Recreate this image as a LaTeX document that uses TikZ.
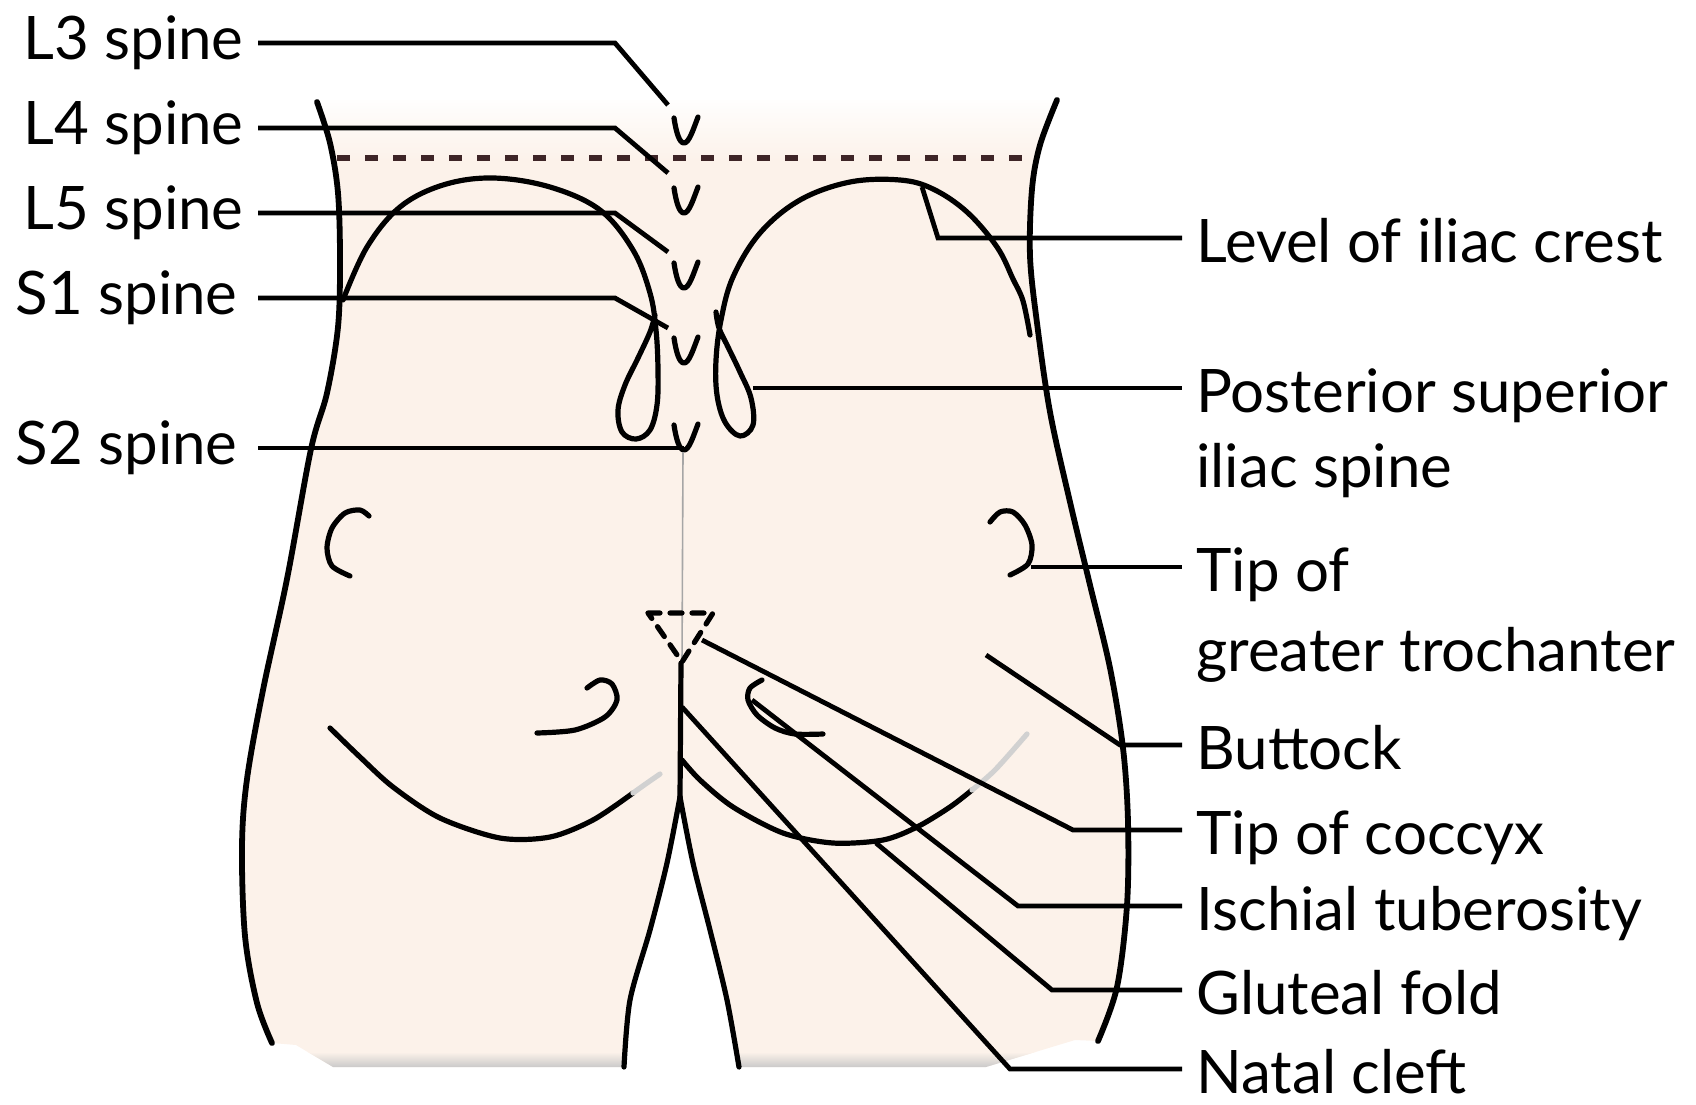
\documentclass[tikz,border=0pt]{standalone}
\usepackage{fontspec}
\setmainfont{Lato}
\usetikzlibrary{calc}
\definecolor{skin}{HTML}{FCF2EA}
\definecolor{crestdash}{HTML}{3E2527}

\tikzset{
  outline/.style={line width=2.9pt, line cap=round, line join=round},
  markline/.style={line width=2.6pt, line cap=round, line join=round},
  leader/.style={line width=2.4pt, line join=miter},
  lab/.style={font=\fontsize{30}{36}\selectfont, inner ysep=0pt, inner xsep=7pt,
              text height=28pt, text depth=4pt},
  labL/.style={lab, anchor=east, text height=20pt},
  labR/.style={lab, anchor=west},
  vmark/.pic={\draw[markline] (-10,-25) .. controls (-8,-12) and (-5,0) .. (0,0)
                              .. controls (5,0) and (9,-13) .. (14,-26);}
}

% outline of the lower back, buttocks and thighs
\def\bodyshape{(317,100) -- plot[smooth, tension=0.55] coordinates {(317,102) (330,143) (338,193) (340,260) (338,327) (327,393) (311,449) (287,579) (263,690) (247,779) (242,846) (245,936) (257,1003) (272,1043)}
  -- (296,1045) -- (333,1067) -- (624,1067)
  -- plot[smooth] coordinates {(624,1067) (630,1000) (650,930) (667,863) (680,797)}
  -- plot[smooth] coordinates {(680,797) (693,863) (710,930) (727,1000) (739,1067)}
  -- (986,1067) -- (1075,1040) -- (1098,1041)
  -- plot[smooth, tension=0.55] coordinates {(1098,1041) (1117,987) (1127,905) (1128,822) (1123,748) (1110,668) (1090,585) (1070,502) (1050,412) (1037,323) (1030,256) (1032,189) (1040,145) (1057,100)}
  -- cycle}

\begin{document}
\begin{tikzpicture}[x=0.5pt, y=-0.5pt]
\useasboundingbox (0,0) rectangle (1696,1104);

% skin-coloured body with a soft top edge and a shaded lower rim
\begin{scope}
  \clip \bodyshape;
  \fill[skin] (200,90) rectangle (1200,1110);
  \shade[top color=white, bottom color=skin] (200,95) rectangle (1200,160);
  \shade[top color=skin, bottom color=black!22] (200,1052) rectangle (1200,1068);
\end{scope}

% side contours
\draw[outline] plot[smooth, tension=0.55] coordinates {(317,102) (330,143) (338,193) (340,260) (338,327) (327,393) (311,449) (287,579) (263,690) (247,779) (242,846) (245,936) (257,1003) (272,1043)};
\draw[outline] plot[smooth, tension=0.55] coordinates {(1098,1041) (1117,987) (1127,905) (1128,822) (1123,748) (1110,668) (1090,585) (1070,502) (1050,412) (1037,323) (1030,256) (1032,189) (1040,145) (1057,100)};

% level of the iliac crests
\draw[crestdash, line width=2.6pt, dash pattern=on 6.5pt off 7.5pt] (337,158) -- (1033,158);

% iliac crests ending in the posterior superior iliac spines
\draw[markline] plot[smooth, tension=0.6] coordinates {(343,300) (367,247) (400,207) (443,185) (493,178) (550,187) (600,210) (633,250) (650,293) (656,330) (658,370) (657,405) (650,430) (636,439) (622,432) (618,410) (625,385) (638,358) (650,332) (655,315)};
\draw[markline] plot[smooth, tension=0.6] coordinates {(1030,335) (1023,301) (1013,279) (997,247) (967,212) (933,189) (900,180) (850,182) (800,200) (760,233) (733,277) (721,320) (716,360) (717,395) (725,422) (740,436) (753,425) (751,398) (740,372) (728,347) (719,328) (716,312)};

% spinous processes
\pic at (684,143) {vmark};
\pic at (684,213) {vmark};
\pic at (684,288) {vmark};
\pic at (684,363) {vmark};
\pic at (684,450) {vmark};

% midline, coccyx and natal cleft
\draw[line width=0.8pt, black!35] (683,452) -- (682,663);
\draw[markline, dash pattern=on 6pt off 5pt] (648,613) -- (713,613) -- (682,662) -- cycle;
\draw[markline] (681,663) -- (680,797);
\draw[markline] plot[smooth] coordinates {(680,797) (667,863) (650,930) (630,1000) (624,1067)};
\draw[markline] plot[smooth] coordinates {(680,797) (693,863) (710,930) (727,1000) (739,1067)};

% greater trochanters
\draw[markline] plot[smooth] coordinates {(369,516) (360,510) (345,513) (332,528) (327,548) (332,566) (350,576)};
\draw[markline] plot[smooth] coordinates {(990,522) (1000,512) (1013,512) (1025,525) (1032,545) (1028,564) (1010,575)};

% ischial tuberosities
\draw[markline] plot[smooth] coordinates {(587,688) (600,680) (612,684) (617,700) (605,717) (575,730) (537,733)};
\draw[markline] plot[smooth] coordinates {(762,680) (750,688) (748,700) (757,715) (775,728) (795,734) (823,734)};

% gluteal folds
\draw[markline] plot[smooth] coordinates {(330,728) (360,757) (393,787) (440,818) (500,838) (550,837) (593,820) (633,793)};
\draw[markline, black!18] plot[smooth] coordinates {(633,793) (647,783) (660,774)};
\draw[markline] plot[smooth] coordinates {(682,760) (700,780) (733,807) (783,833) (833,843) (883,840) (917,827) (950,807) (972,790)};
\draw[markline, black!18] plot[smooth] coordinates {(972,790) (995,770) (1027,734)};

% labels on the left
\node[labL] (l3) at (258,43) {L3 spine};
\node[labL] (l4) at (258,128) {L4 spine};
\node[labL] (l5) at (258,213) {L5 spine};
\node[labL, inner xsep=10pt] (s1) at (258,298) {S1 spine};
\node[labL, inner xsep=10pt] (s2) at (258,448) {S2 spine};

% labels on the right
\node[labR] (crest) at (1182,238) {Level of iliac crest};
\node[labR] (psis) at (1182,388) {Posterior superior};
\node[labR] (psisb) at ($(psis.west)+(0,75)$) {iliac spine};
\node[labR] (tro) at (1182,567) {Tip of};
\node[labR] (trob) at ($(tro.west)+(0,80)$) {greater trochanter};
\node[labR] (buttock) at (1182,745) {Buttock};
\node[labR] (coccyx) at (1182,830) {Tip of coccyx};
\node[labR] (ischial) at (1182,906) {Ischial tuberosity};
\node[labR] (gluteal) at (1182,990) {Gluteal fold};
\node[labR] (natal) at (1182,1069) {Natal cleft};

% points indicated by the leaders
\coordinate (l3k) at (615,43);   \coordinate (l3t) at (668,105);
\coordinate (l4k) at (615,128);  \coordinate (l4t) at (668,173);
\coordinate (l5k) at (615,213);  \coordinate (l5t) at (668,252);
\coordinate (s1k) at (615,298);  \coordinate (s1t) at (668,328);
\coordinate (s2t) at (684,448);
\coordinate (crestt) at (922,187);   \coordinate (crestk) at (938,238);
\coordinate (psist) at (753,388);
\coordinate (trot) at (1031,567);
\coordinate (buttockt) at (986,655); \coordinate (buttockk) at (1120,745);
\coordinate (coccyxt) at (702,640);  \coordinate (coccyxk) at (1073,830);
\coordinate (ischialt) at (752,700); \coordinate (ischialk) at (1018,906);
\coordinate (glutealt) at (876,843); \coordinate (glutealk) at (1052,990);
\coordinate (natalt) at (682,707);   \coordinate (natalk) at (1010,1069);

% leaders
\draw[leader] (l3.east) -- (l3k) -- (l3t);
\draw[leader] (l4.east) -- (l4k) -- (l4t);
\draw[leader] (l5.east) -- (l5k) -- (l5t);
\draw[leader] (s1.east) -- (s1k) -- (s1t);
\draw[leader] (s2.east) -- (s2t);
\draw[leader] (crestt) -- (crestk) -- (crest.west);
\draw[leader] (psist) -- (psis.west);
\draw[leader] (trot) -- (tro.west);
\draw[leader] (buttockt) -- (buttockk) -- (buttock.west);
\draw[leader] (coccyxt) -- (coccyxk) -- (coccyx.west);
\draw[leader] (ischialt) -- (ischialk) -- (ischial.west);
\draw[leader] (glutealt) -- (glutealk) -- (gluteal.west);
\draw[leader] (natalt) -- (natalk) -- (natal.west);
\end{tikzpicture}
\end{document}
